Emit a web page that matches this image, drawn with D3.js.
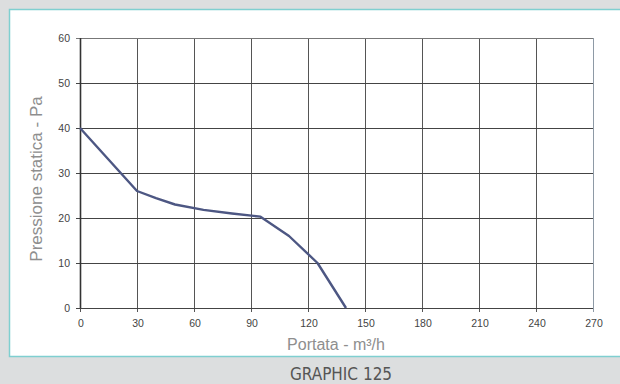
<!DOCTYPE html>
<html><head><meta charset="utf-8">
<script src="https://cdn.jsdelivr.net/npm/d3@7"></script>
<style>
html,body{margin:0;padding:0;background:#dcdedf;}
svg{display:block;}
</style></head>
<body><svg id="c" width="620" height="384"></svg>
<script>
const flowValues = [0, 30, 40, 50, 65, 80, 95, 110, 125, 140];
const pressureValues = [40, 26, 24.4, 23, 21.8, 21, 20.3, 16, 10, 0];
const xTicks = [0, 30, 60, 90, 120, 150, 180, 210, 240, 270];
const yTicks = [0, 10, 20, 30, 40, 50, 60];
const xTitle = "Portata - m³/h";
const yTitle = "Pressione statica - Pa";
const caption = "GRAPHIC 125";

const svg = d3.select("#c");
svg.append("rect").attr("width",620).attr("height",384).attr("fill","#dcdedf");
svg.append("rect").attr("x",9.5).attr("y",9.5).attr("width",620).attr("height",347)
  .attr("fill","#fff").attr("stroke","#7fcfd0").attr("stroke-width",1.5);

const x = d3.scaleLinear().domain([0,270]).range([80,593]);
const y = d3.scaleLinear().domain([0,60]).range([308,38]);

const g = svg.append("g");
// grid
g.selectAll("line.v").data(xTicks).join("line")
  .attr("x1",d=>x(d)+0.5).attr("x2",d=>x(d)+0.5).attr("y1",y(60)).attr("y2",y(0)+4)
  .attr("stroke",d=>d===270?"#8e9aa6":"#555").attr("stroke-width",1);
g.selectAll("line.h").data(yTicks).join("line")
  .attr("x1",x(0)-4).attr("x2",x(270)).attr("y1",d=>y(d)+0.5).attr("y2",d=>y(d)+0.5)
  .attr("stroke",d=>d===60?"#777":"#444").attr("stroke-width",1);
// y axis line thicker
g.append("line").attr("x1",x(0)+0.5).attr("x2",x(0)+0.5).attr("y1",y(60)).attr("y2",y(0))
  .attr("stroke","#333").attr("stroke-width",1.6);

// tick labels
g.selectAll("text.xt").data(xTicks).join("text")
  .attr("x",d=>x(d)+1).attr("y",327).attr("text-anchor","middle")
  .attr("font-family","Liberation Sans, Arial, sans-serif").attr("font-size",10.5).attr("fill","#444")
  .text(d=>d);
g.selectAll("text.yt").data(yTicks).join("text")
  .attr("x",70).attr("y",d=>y(d)+4).attr("text-anchor","end")
  .attr("font-family","Liberation Sans, Arial, sans-serif").attr("font-size",10.5).attr("fill","#444")
  .text(d=>d);

// curve
const line = d3.line().x((d,i)=>x(flowValues[i])).y(d=>y(d));
g.append("path").datum(pressureValues).attr("d",line).attr("fill","none")
  .attr("stroke","#4d5783").attr("stroke-width",2.4).attr("stroke-linejoin","round");

// titles
svg.append("text").attr("x",336).attr("y",350).attr("text-anchor","middle")
  .attr("font-family","Liberation Sans, Arial, sans-serif").attr("font-size",16).attr("fill","#8e8e8e")
  .text(xTitle);
svg.append("text").attr("transform","translate(42,179) rotate(-90)").attr("text-anchor","middle")
  .attr("font-family","Liberation Sans, Arial, sans-serif").attr("font-size",17).attr("fill","#8e8e8e")
  .text(yTitle);
svg.append("text").attr("x",341).attr("y",380).attr("text-anchor","middle")
  .attr("font-family","Liberation Sans Narrow, DejaVu Sans Condensed, sans-serif").attr("font-size",17).attr("fill","#555")
  .text(caption);
</script></body></html>
